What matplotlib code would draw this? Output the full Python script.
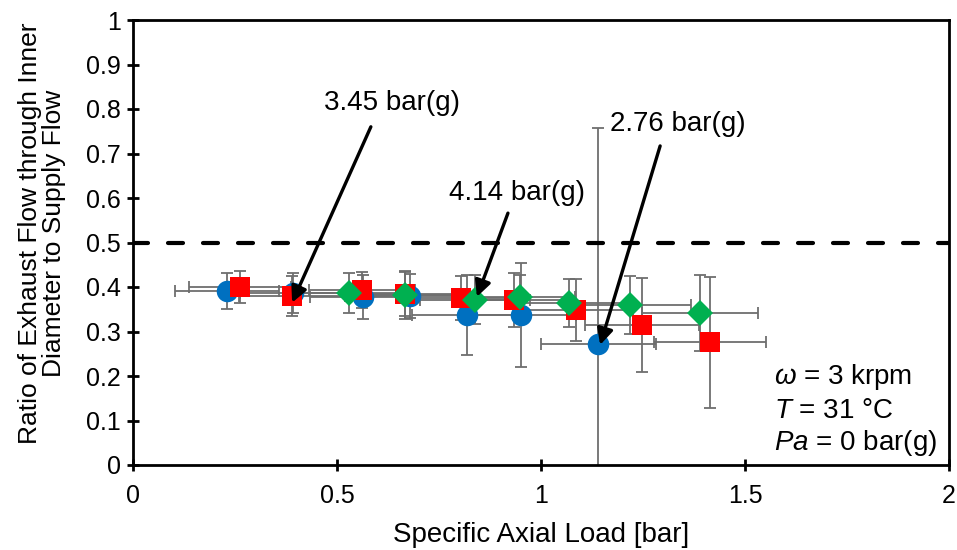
import matplotlib
matplotlib.use("Agg")
import matplotlib.pyplot as plt

plt.rcParams['font.family'] = ['Liberation Sans', 'DejaVu Sans']
plt.rcParams['mathtext.fontset'] = 'custom'
plt.rcParams['mathtext.rm'] = 'Liberation Sans'
plt.rcParams['mathtext.it'] = 'Liberation Sans:italic'

# Supply pressure 2.76 bar(g)
x_276 = [0.230, 0.392, 0.564, 0.679, 0.819, 0.951, 1.140]
y_276 = [0.391, 0.386, 0.378, 0.380, 0.337, 0.337, 0.272]
xerr_276 = [0.127, 0.130, 0.130, 0.130, 0.135, 0.135, 0.141]
yerr_276 = [0.040, 0.045, 0.050, 0.050, 0.090, 0.117, 0.485]

# Supply pressure 3.45 bar(g)
x_345 = [0.262, 0.390, 0.561, 0.667, 0.804, 0.934, 1.086, 1.248, 1.414]
y_345 = [0.400, 0.380, 0.393, 0.384, 0.375, 0.371, 0.348, 0.315, 0.276]
xerr_345 = [0.125, 0.130, 0.130, 0.130, 0.135, 0.135, 0.140, 0.140, 0.137]
yerr_345 = [0.035, 0.045, 0.040, 0.050, 0.050, 0.060, 0.070, 0.105, 0.147]

# Supply pressure 4.14 bar(g)
x_414 = [0.529, 0.667, 0.838, 0.949, 1.069, 1.218, 1.390]
y_414 = [0.387, 0.382, 0.371, 0.378, 0.364, 0.360, 0.342]
xerr_414 = [0.130, 0.130, 0.135, 0.135, 0.140, 0.150, 0.142]
yerr_414 = [0.045, 0.055, 0.055, 0.050, 0.055, 0.065, 0.085]

x_ticks = [0, 0.5, 1, 1.5, 2]
x_tick_labels = ["0", "0.5", "1", "1.5", "2"]
y_ticks = [0, 0.1, 0.2, 0.3, 0.4, 0.5, 0.6, 0.7, 0.8, 0.9, 1.0]
y_tick_labels = ["0", "0.1", "0.2", "0.3", "0.4", "0.5", "0.6", "0.7", "0.8", "0.9", "1"]
limit_ratio = 0.5

fig = plt.figure(figsize=(9.57, 5.5), dpi=100)
ax = fig.add_axes([133 / 957, 1 - 465 / 550, (949 - 133) / 957, (465 - 20) / 550])

err_color = '#6e6e6e'
series = [
    (x_276, y_276, xerr_276, yerr_276, 'o', '#0070C0', 15.5),
    (x_345, y_345, xerr_345, yerr_345, 's', '#FF0000', 15.0),
    (x_414, y_414, xerr_414, yerr_414, 'D', '#00B050', 13.5),
]

for xs, ys, xe, ye, m, c, ms in series:
    ax.errorbar(xs, ys, xerr=xe, yerr=ye, fmt='none', ecolor=err_color,
                elinewidth=1.3, capsize=4, capthick=1.3, zorder=2)
for i, (xs, ys, xe, ye, m, c, ms) in enumerate(series):
    ax.plot(xs, ys, linestyle='none', marker=m, color=c, markersize=ms,
            markeredgewidth=0, zorder=3 + i)

ax.axhline(limit_ratio, color='black', lw=3, dashes=(3.6, 4.8),
           dash_capstyle='round', zorder=6)

# Pressure call-outs: arrow from below each label down to its point
arrow = dict(arrowstyle='-|>', color='black', lw=2.4, mutation_scale=24,
             shrinkA=0, shrinkB=0)
callouts = [
    ('3.45 bar(g)', (0.636, 0.813), (0.583, 0.760), (x_345[1], 0.365)),
    ('4.14 bar(g)', (0.941, 0.611), (0.919, 0.566), (0.843, 0.378)),
    ('2.76 bar(g)', (1.336, 0.766), (1.292, 0.717), (x_276[6] + 0.005, 0.27)),
]
for label, txt_pos, tail, tip in callouts:
    ax.text(*txt_pos, label, ha='center', va='center', fontsize=20, zorder=7)
    ax.annotate('', xy=tip, xytext=tail, arrowprops=arrow, zorder=7)

ax.text(1.572, 0.197, r'$\omega$ = 3 krpm', fontsize=20, ha='left', va='center')
ax.text(1.572, 0.122, r'$T$ = 31 °C', fontsize=20, ha='left', va='center')
ax.text(1.572, 0.049, r'$Pa$ = 0 bar(g)', fontsize=20, ha='left', va='center')

ax.set_xlim(0, 2)
ax.set_ylim(0, 1)
ax.set_xticks(x_ticks)
ax.set_xticklabels(x_tick_labels)
ax.set_yticks(y_ticks)
ax.set_yticklabels(y_tick_labels)
ax.tick_params(direction='inout', length=9, width=2, labelsize=18, colors='black')
ax.tick_params(axis='x', pad=9)
ax.tick_params(axis='y', pad=4)
for sp in ax.spines.values():
    sp.set_linewidth(2)
    sp.set_color('black')

ax.set_xlabel('Specific Axial Load [bar]', fontsize=20, labelpad=10.5)
ax.set_ylabel('Ratio of Exhaust Flow through Inner\nDiameter to Supply Flow',
              fontsize=19, labelpad=15, linespacing=1.0)
ax.yaxis.set_label_coords(-0.082, 0.52)

fig.savefig('out.png', dpi=100)
